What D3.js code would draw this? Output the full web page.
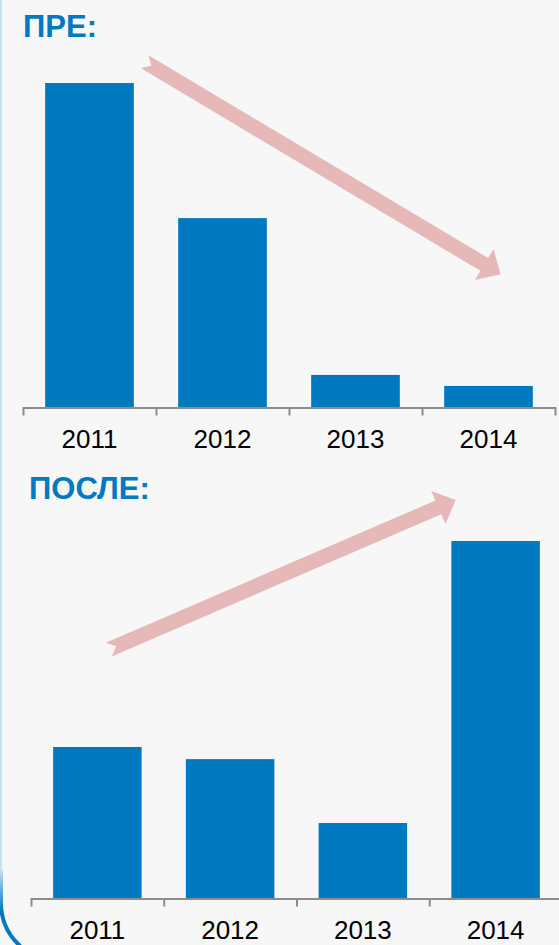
<!DOCTYPE html>
<html>
<head>
<meta charset="utf-8">
<script src="https://cdn.jsdelivr.net/npm/d3@7"></script>
<style>
  body { margin: 0; background: #f7f7f7; }
  svg { display: block; font-family: "Liberation Sans", Arial, sans-serif; }
</style>
</head>
<body>
<svg id="chart" width="559" height="945"></svg>
<script>
// Data
var years = ['2011', '2012', '2013', '2014']
var preValues = [100, 58.3, 9.9, 6.5]
var postValues = [42.3, 38.9, 21, 100]

// arrows in data space: [category index, value]
var preArrow = { from: [0.414, 106.6], to: [3.091, 41] }
var postArrow = { from: [0.086, 69.6], to: [2.7, 111.5] }

var blue = '#0079c1'
var pink = '#e6b8b7'
var axisGrey = '#8c8c8c'

var svg = d3.select('#chart')

svg.append('rect')
  .attr('width', 559)
  .attr('height', 945)
  .attr('fill', '#f7f7f7')

// left frame of the slide box
svg.append('line')
  .attr('x1', 1).attr('x2', 1)
  .attr('y1', 0).attr('y2', 880)
  .attr('stroke', '#c8e1f3')
  .attr('stroke-width', 2)

var grad = svg.append('defs').append('linearGradient')
  .attr('id', 'frameGrad')
  .attr('x1', 0).attr('y1', 0).attr('x2', 0).attr('y2', 1)
grad.append('stop').attr('offset', '0%').attr('stop-color', '#c8e1f3')
grad.append('stop').attr('offset', '45%').attr('stop-color', '#0079c1')
grad.append('stop').attr('offset', '100%').attr('stop-color', '#0079c1')

svg.append('path')
  .attr('d', 'M1,870 L1,903 A58,58 0 0 0 59,961')
  .attr('fill', 'none')
  .attr('stroke', 'url(#frameGrad)')
  .attr('stroke-width', 4)

function arrowPath(p0, t, w, h, len, notch) {
  var dx = t[0] - p0[0]
  var dy = t[1] - p0[1]
  var l = Math.sqrt(dx * dx + dy * dy)
  var u = [dx / l, dy / l]
  var n = [-u[1], u[0]]
  var b = [t[0] - u[0] * len, t[1] - u[1] * len]
  var pts = [
    [p0[0] + n[0] * w, p0[1] + n[1] * w],
    [b[0] + n[0] * w, b[1] + n[1] * w],
    [b[0] + n[0] * h, b[1] + n[1] * h],
    t,
    [b[0] - n[0] * h, b[1] - n[1] * h],
    [b[0] - n[0] * w, b[1] - n[1] * w],
    [p0[0] - n[0] * w, p0[1] - n[1] * w],
    [p0[0] + u[0] * notch, p0[1] + u[1] * notch]
  ]
  return 'M' + pts.map(function(p) { return p[0] + ',' + p[1] }).join('L') + 'Z'
}

function drawPanel(opts) {
  var g = svg.append('g')

  var xScale = d3.scaleBand()
    .domain(years)
    .range([opts.x0, opts.x1])
    .paddingInner(1 / 3)
    .paddingOuter(1 / 6)

  var yScale = d3.scaleLinear()
    .domain([0, 100])
    .range([opts.base, opts.top])

  // title
  g.append('text')
    .attr('x', opts.titleX)
    .attr('y', opts.titleY)
    .attr('fill', blue)
    .attr('font-weight', 'bold')
    .attr('font-size', 31)
    .text(opts.title)

  // bars
  g.selectAll('.bar')
    .data(opts.values)
    .enter()
    .append('rect')
    .attr('class', 'bar')
    .attr('x', function(d, i) { return xScale(years[i]) })
    .attr('width', xScale.bandwidth())
    .attr('y', function(d) { return yScale(d) })
    .attr('height', function(d) { return opts.base - yScale(d) })
    .attr('fill', blue)

  // ticks between categories
  var edgeScale = d3.scaleLinear().domain([0, years.length]).range([opts.x0, opts.x1])
  var tickAxis = d3.axisBottom(edgeScale)
    .tickValues([1, 2, 3])
    .tickFormat('')
    .tickSize(8)
    .tickSizeOuter(8)
  g.append('g')
    .attr('class', 'axis')
    .attr('transform', 'translate(0,' + (opts.base + 0.5) + ')')
    .call(tickAxis)
    .call(function(a) {
      a.selectAll('path, line').attr('stroke', axisGrey).attr('stroke-width', 2)
    })

  // category labels
  var labelAxis = d3.axisBottom(xScale).tickSize(0).tickPadding(opts.labelPad)
  g.append('g')
    .attr('transform', 'translate(0,' + (opts.base + 0.5) + ')')
    .call(labelAxis)
    .call(function(a) {
      a.select('.domain').remove()
      a.selectAll('text')
        .attr('font-size', 26)
        .attr('font-family', '"Liberation Sans", Arial, sans-serif')
        .attr('fill', '#000')
    })

  // trend arrow
  var idx = d3.scaleLinear()
    .domain([0, years.length - 1])
    .range([xScale(years[0]) + xScale.bandwidth() / 2, xScale(years[years.length - 1]) + xScale.bandwidth() / 2])
  var a = opts.arrow
  g.append('path')
    .attr('d', arrowPath(
      [idx(a.from[0]), yScale(a.from[1])],
      [idx(a.to[0]), yScale(a.to[1])],
      7.5, 18, 19, 8))
    .attr('fill', pink)
}

drawPanel({
  title: 'ПРЕ:', titleX: 23, titleY: 36.5,
  values: preValues, arrow: preArrow,
  x0: 23, x1: 555, base: 407, top: 83, labelPad: 22.5
})

drawPanel({
  title: 'ПОСЛЕ:', titleX: 29, titleY: 499,
  values: postValues, arrow: postArrow,
  x0: 31, x1: 562, base: 898, top: 541, labelPad: 22
})
</script>
</body>
</html>
